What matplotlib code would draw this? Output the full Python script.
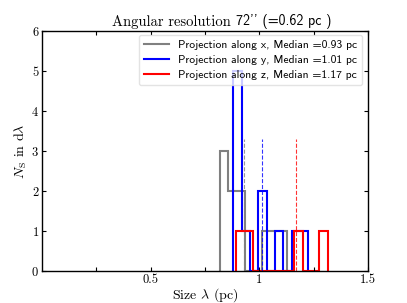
import matplotlib
matplotlib.use("Agg")
import matplotlib.pyplot as plt
import numpy as np

# Computer Modern look, like the original LaTeX rendering
plt.rcParams["font.family"] = "cmr10"
plt.rcParams["mathtext.fontset"] = "cm"
plt.rcParams["axes.formatter.use_mathtext"] = True
plt.rcParams["axes.unicode_minus"] = False

# Histogram bin edges and counts, one set per projection
edges_x = [0.819, 0.857, 0.896, 0.934, 0.972, 1.010, 1.049, 1.087, 1.125]
counts_x = [3, 2, 2, 0, 0, 1, 1, 1]

edges_y = [0.880, 0.918, 0.957, 0.995, 1.033, 1.072, 1.110, 1.148, 1.187, 1.225]
counts_y = [5, 1, 0, 2, 0, 1, 0, 1, 1]

edges_z = [0.893, 0.931, 0.969, 1.008, 1.046, 1.084, 1.123, 1.161, 1.199, 1.238, 1.276, 1.314]
counts_z = [1, 1, 0, 0, 0, 0, 0, 1, 0, 0, 1]

medians = [0.93, 1.01, 1.17]
colors = ["gray", "b", "r"]
axes_names = ["x", "y", "z"]
median_line_top = 3.3

xticks = [0.25, 0.5, 0.75, 1.0, 1.25, 1.5]
xticklabels = ["", "0.5", "", "1", "", "1.5"]

fig = plt.figure(figsize=(4.07, 3.03), dpi=100)
ax = fig.add_axes([0.1032, 0.1056, 0.8010, 0.7921])

series = [(edges_x, counts_x), (edges_y, counts_y), (edges_z, counts_z)]
for (edges, counts), med, col, name in zip(series, medians, colors, axes_names):
    ax.stairs(counts, edges, baseline=0, color=col, lw=1.5,
              label="Projection along {}, Median ={:.2f} pc".format(name, med))
    ax.vlines(med, 0, median_line_top, colors=col, linestyles="--", lw=0.8, alpha=0.8)

ax.set_xlim(0, 1.5)
ax.set_ylim(0, 6)
ax.set_xticks(xticks)
ax.set_xticklabels(xticklabels)
ax.set_yticks(range(0, 7))
ax.tick_params(direction="in", top=True, right=True, labelsize=9, length=3, pad=2)
for sp in ax.spines.values():
    sp.set_linewidth(1.0)

ax.set_xlabel(r"Size $\lambda$ (pc)", fontsize=10, labelpad=0)
ax.set_ylabel(r"$N_{\rm S}$ in d$\lambda$", fontsize=10, labelpad=2)

# Title mixes roman and sans pieces, as in the LaTeX original
t1 = ax.text(0.215, 1.01, "Angular resolution ", transform=ax.transAxes,
             fontsize=10.5, ha="left", va="bottom")
ax.annotate("72'' (=0.62 pc )", xy=(1, 0), xycoords=t1, fontsize=10,
            family="cmss10", ha="left", va="bottom")

leg = ax.legend(loc="upper right", bbox_to_anchor=(0.9816, 0.9833),
                prop={"family": "cmss10", "size": 8.3},
                framealpha=0.8, handlelength=2.2, borderaxespad=0,
                labelspacing=0.45)
leg.get_frame().set_edgecolor("#dddddd")

plt.savefig("out.png", dpi=100)
